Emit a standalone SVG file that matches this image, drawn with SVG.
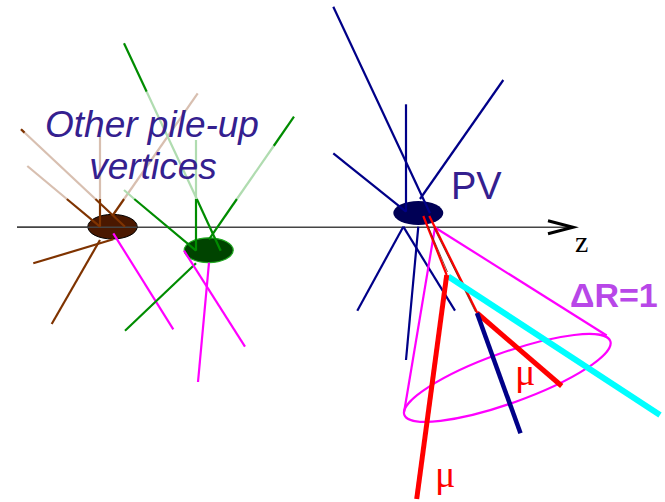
<svg xmlns="http://www.w3.org/2000/svg" width="665" height="502" viewBox="0 0 665 502">
<defs>
<style>
.tan{stroke:#d8bfb0;stroke-width:2.2;fill:none}
.brn{stroke:#7f3300;stroke-width:2.2;fill:none}
.lg{stroke:#b0dcb0;stroke-width:2.2;fill:none}
.dg{stroke:#008c00;stroke-width:2.2;fill:none}
.nv{stroke:#000088;stroke-width:2.2;fill:none}
.mg{stroke:#ff00ff;stroke-width:2.2;fill:none}
.rd{stroke:#ff0000;stroke-width:2.2;fill:none}
.rdc{stroke:#7a1a00;stroke-width:0.8;fill:none}
.lbl{font-family:"Liberation Sans",Arial,sans-serif;fill:#34208f}
.mu{font-family:"Liberation Serif","Times New Roman",serif;font-size:38px;fill:#ff0000}
</style>
<marker id="arr" markerUnits="userSpaceOnUse" markerWidth="30" markerHeight="20" refX="26" refY="8" orient="auto" overflow="visible">
<path d="M1,1.5 L26,8 L1,14.5" fill="none" stroke="#000" stroke-width="3" stroke-linejoin="miter"/>
</marker>
</defs>
<rect width="665" height="502" fill="#fff"/>

<g id="axis">
<line x1="17" y1="227.2" x2="573" y2="227.2" stroke="#444" stroke-width="1.6" marker-end="url(#arr)"/>
<text x="575" y="252" font-family="Liberation Serif,'Times New Roman',serif" font-size="30" fill="#000">z</text>
</g>

<g id="vertex-brown">
<ellipse cx="112.5" cy="226.7" rx="24.7" ry="12.3" fill="#4a1800" stroke="#000" stroke-width="1"/>
<line x1="17" y1="227.2" x2="137" y2="227.2" stroke="#444" stroke-width="1.6"/>
<line class="tan" x1="21" y1="129.3" x2="95.4" y2="199"/>
<line class="brn" x1="95.4" y1="199" x2="125" y2="226.7"/>
<line class="brn" x1="21" y1="129.3" x2="24.5" y2="132.6"/>
<line class="tan" x1="27.3" y1="166" x2="66.8" y2="199"/>
<line class="brn" x1="66.8" y1="199" x2="100" y2="226.7"/>
<line class="tan" x1="100" y1="136" x2="100" y2="199"/>
<line class="brn" x1="100" y1="199" x2="100" y2="226.7"/>
<line class="tan" x1="197.7" y1="93.3" x2="124.1" y2="199"/>
<line class="brn" x1="124.1" y1="199" x2="113" y2="215"/>
<line class="brn" x1="33.3" y1="263.3" x2="113.3" y2="239.3"/>
<line class="brn" x1="51.7" y1="324" x2="100" y2="240"/>
<line class="mg" x1="113.3" y1="233.3" x2="173.3" y2="329.3"/>
</g>

<g id="vertex-green">
<ellipse cx="208.7" cy="250.2" rx="24.5" ry="12.4" fill="#004400" stroke="#22aa22" stroke-width="1.2"/>
<line class="dg" x1="124" y1="43.3" x2="146.7" y2="91.7"/>
<line class="lg" x1="146.7" y1="91.7" x2="196.8" y2="199"/>
<line class="dg" x1="196.8" y1="199" x2="220.7" y2="250.7"/>
<line class="lg" x1="196" y1="140" x2="196" y2="199"/>
<line class="dg" x1="196" y1="199" x2="196" y2="250.7"/>
<line class="dg" x1="294" y1="116.7" x2="273.7" y2="146"/>
<line class="lg" x1="273.7" y1="146" x2="236.9" y2="199"/>
<line class="dg" x1="236.9" y1="199" x2="209" y2="239.3"/>
<line class="lg" x1="124" y1="190" x2="134.3" y2="199"/>
<line class="dg" x1="134.3" y1="199" x2="196" y2="250.7"/>
<line class="dg" x1="125" y1="330.7" x2="196" y2="263.3"/>
<line class="mg" x1="184" y1="250.7" x2="245" y2="346.7"/>
<line class="mg" x1="209" y1="262.7" x2="198" y2="382"/>
</g>

<g id="label-pileup">
<text class="lbl" x="152" y="137.3" font-size="37" font-style="italic" text-anchor="middle">Other pile-up</text>
<text class="lbl" x="153" y="179.3" font-size="37" font-style="italic" text-anchor="middle">vertices</text>
</g>

<g id="vertex-pv">
<ellipse cx="418.3" cy="213" rx="25" ry="12" fill="#000055"/>
<line class="nv" x1="333.3" y1="6.7" x2="430" y2="213.3"/>
<line class="nv" x1="333.3" y1="153.3" x2="406" y2="211.7"/>
<line class="nv" x1="406" y1="104.3" x2="406" y2="211.7"/>
<line class="nv" x1="503.3" y1="80" x2="420" y2="199"/>
<line class="nv" x1="403.3" y1="226.7" x2="357.3" y2="310.7"/>
<line class="nv" x1="403.3" y1="226.7" x2="455" y2="310.7"/>
<line class="nv" x1="418.3" y1="226.7" x2="406" y2="360"/>
<text class="lbl" x="451" y="199.3" font-size="38">PV</text>
</g>

<g id="cone">
<line class="mg" x1="435" y1="227.5" x2="606.7" y2="335.5"/>
<line class="mg" x1="435" y1="227.5" x2="404.2" y2="411.5"/>
<ellipse class="mg" cx="507.3" cy="377.9" rx="109.4" ry="25.3" transform="rotate(-19.7 507.3 377.9)"/>
<text x="570" y="307.3" font-family="Liberation Sans,Arial,sans-serif" font-weight="bold" font-size="34" fill="#b847e8">ΔR=1</text>
</g>

<g id="tracks">
<line class="rd" x1="423.3" y1="216" x2="446.7" y2="275"/>
<line class="rdc" x1="428" y1="226" x2="447.5" y2="272"/>
<line class="rd" x1="429.3" y1="216" x2="477.3" y2="313"/>
<line class="rdc" x1="434" y1="228" x2="475.5" y2="312"/>
<line x1="448.3" y1="276.5" x2="660" y2="415" stroke="#00ffff" stroke-width="6"/>
<line x1="446.7" y1="275" x2="416.7" y2="499" stroke="#ff0000" stroke-width="5"/>
<line x1="477" y1="313" x2="561.7" y2="386" stroke="#ff0000" stroke-width="5"/>
<line x1="477" y1="313" x2="520.5" y2="433.3" stroke="#000088" stroke-width="4.5"/>
<text class="mu" x="435" y="487">μ</text>
<text class="mu" x="515" y="385">μ</text>
</g>
</svg>
